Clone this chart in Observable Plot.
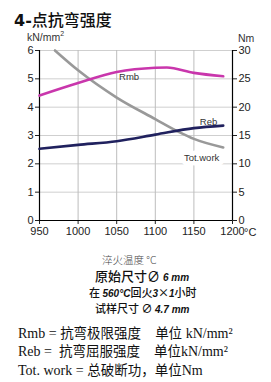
<!DOCTYPE html>
<html>
<head>
<meta charset="utf-8">
<script src="https://cdn.jsdelivr.net/npm/d3@7"></script>
<script src="https://cdn.jsdelivr.net/npm/@observablehq/plot@0.6"></script>
<style>
  body { margin: 0; background: #fff; }
  #wrap { position: relative; width: 271px; height: 382px; overflow: hidden; font-family: "Liberation Sans", Arial, sans-serif; }
  .t { position: absolute; white-space: nowrap; line-height: 1; }
  .t span { line-height: 1; display: inline-block; }
  .cjk { font-family: "Noto Sans CJK SC", sans-serif; }
  .bi { font-family: "Liberation Sans", Arial, sans-serif; font-weight: bold; font-style: italic; }
  .serif { font-family: "Liberation Serif", "Times New Roman", serif; font-size: 14px; color: #111; }
  .serif .cjk { font-size: 13.5px; }
</style>
</head>
<body>
<div id="wrap">
  <div id="title" style="height:30px"></div>
  <div id="chart"></div>
</div>
<script>
// ---- data ----
const temps = [950, 1000, 1050, 1100, 1115, 1150, 1188];
const rmb = [4.41, 4.85, 5.24, 5.39, 5.40, 5.21, 5.09];
const rebTemps = [950, 1000, 1050, 1100, 1150, 1188];
const reb = [2.53, 2.67, 2.80, 3.03, 3.26, 3.35];
const workTemps = [970, 1000, 1050, 1100, 1131, 1150, 1188];
const totWork = [30, 26.5, 21.7, 17.9, 15.6, 14.4, 12.9];
const xTicks = [950, 1000, 1050, 1100, 1150, 1200];
const yTicks = [0, 1, 2, 3, 4, 5, 6];
const rightFactor = 5; // Nm per kN/mm² on the right axis
const seriesNames = ["Rmb", "Reb", "Tot.work"];
const labelX = [1066, 1169, 1160];
const labelY = [5.05, 3.47, 2.22];
const labelAnchor = ["start", "middle", "middle"];

const rmbData = temps.map((t, i) => ({t, v: rmb[i]}));
const rebData = rebTemps.map((t, i) => ({t, v: reb[i]}));
const workData = workTemps.map((t, i) => ({t, v: totWork[i] / rightFactor}));
const labels = seriesNames.map((s, i) => ({s, x: labelX[i], y: labelY[i], a: labelAnchor[i]}));

const plot = Plot.plot({
  width: 271,
  height: 215,
  marginTop: 20,
  marginBottom: 25,
  marginLeft: 39,
  marginRight: 39,
  style: {fontFamily: "Liberation Sans, Arial, sans-serif", fontSize: "11px", color: "#222", background: "transparent"},
  x: {domain: [950, 1200]},
  y: {domain: [0, 6]},
  marks: [
    Plot.ruleY(yTicks.filter(d => d > 0), {stroke: "#cfcfcf", strokeWidth: 1}),
    Plot.ruleX(xTicks.filter(d => d > 950 && d < 1200), {stroke: "#bdbdbd", strokeWidth: 1}),
    Plot.axisX({ticks: xTicks, tickSize: 4, tickPadding: 3, tickFormat: d => String(d), label: null, fontSize: 11}),
    Plot.axisY({anchor: "left", ticks: yTicks, tickSize: 4, tickPadding: 2, tickFormat: d => String(d), label: null, fontSize: 11}),
    Plot.axisY({anchor: "right", ticks: yTicks, tickSize: 4, tickPadding: 2, tickFormat: d => String(d * rightFactor), label: null, fontSize: 11}),
    Plot.ruleY([0], {stroke: "#000", strokeWidth: 1.2}),
    Plot.ruleX([950, 1200], {stroke: "#000", strokeWidth: 1.2}),
    Plot.line(workData, {x: "t", y: "v", stroke: "#999999", strokeWidth: 2.6, curve: "monotone-x"}),
    Plot.line(rmbData, {x: "t", y: "v", stroke: "#c936ac", strokeWidth: 2.6, curve: "monotone-x"}),
    Plot.line(rebData, {x: "t", y: "v", stroke: "#20215e", strokeWidth: 2.6, curve: "monotone-x"}),
    Plot.text(labels.filter(d => d.s !== "Tot.work"), {x: "x", y: "y", text: "s", textAnchor: "a", fill: "#333", fontSize: 9.5}),
    Plot.text(labels.filter(d => d.s === "Tot.work"), {x: "x", y: "y", text: "s", textAnchor: "a", fill: "#333", fontSize: 9.5, stroke: "white", strokeWidth: 9})
  ]
});
document.getElementById("chart").appendChild(plot);

const wrap = document.getElementById("wrap");
function addText(html, cls, style) {
  const d = document.createElement("div");
  d.className = "t " + cls;
  d.setAttribute("style", style);
  d.innerHTML = html;
  wrap.appendChild(d);
}
addText('<span style="font-family:\'DejaVu Sans\';font-weight:bold">4-</span><span class="cjk" style="font-weight:500">点抗弯强度</span>', "", "left:14px;top:11px;font-size:16px;color:#111");
addText('kN/mm<sup style="font-size:7px;vertical-align:5px;line-height:0">2</sup>', "", "left:27px;top:32px;font-size:10.5px;color:#333");
addText('Nm', "", "left:238px;top:33px;font-size:10.5px;color:#333");
addText('°C', "", "left:244px;top:227px;font-size:11px;color:#222");
addText('淬火温度 °C', "cjk", "left:102px;top:255px;font-size:10.5px;color:#444;font-weight:300");
addText('原始尺寸∅ <span class="bi" style="font-size:10px">6 mm</span>', "cjk", "left:95px;top:268.5px;font-size:13px;color:#111;font-weight:500");
addText('在 <span class="bi" style="font-size:10px">560°C</span>回火<span class="bi" style="font-size:10px">3</span>×<span class="bi" style="font-size:10px">1</span>小时', "cjk", "left:89px;top:286.5px;font-size:11px;color:#111;font-weight:500");
addText('试样尺寸 ∅ <span class="bi" style="font-size:10px">4.7 mm</span>', "cjk", "left:95px;top:302.5px;font-size:11px;color:#111;font-weight:500");
addText('Rmb = <span class="cjk">抗弯极限强度</span>&nbsp;&nbsp;&nbsp;&nbsp;<span class="cjk">单位</span> kN/mm²', "serif", "left:18px;top:325.5px");
addText('Reb = &nbsp;<span class="cjk">抗弯屈服强度</span>&nbsp;&nbsp;&nbsp;&nbsp;<span class="cjk">单位</span>kN/mm²', "serif", "left:18px;top:344px");
addText('Tot. work = <span class="cjk">总破断功，单位</span>Nm', "serif", "left:18px;top:363px");
</script>
</body>
</html>
